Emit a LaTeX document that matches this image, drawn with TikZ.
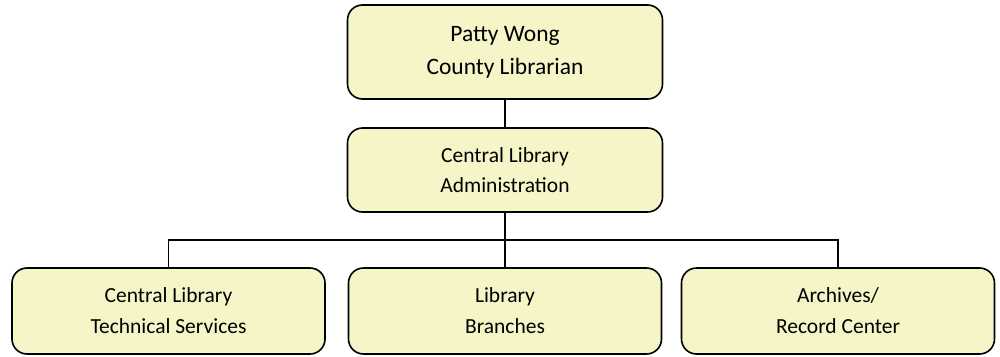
\documentclass[tikz,border=0pt]{standalone}
\usepackage{fontspec}
\setmainfont{Carlito}
\definecolor{boxfill}{RGB}{245,245,200}
\tikzset{
  unit/.style={draw=black, line width=1.6pt, fill=boxfill, rounded corners=15pt,
    align=center, inner sep=0pt, text=black},
  link/.style={draw=black, line width=1.5pt},
}
\begin{document}
\begin{tikzpicture}[x=1pt,y=-1pt]
\useasboundingbox (0,0) rectangle (1000,356);
% head of the county library
\node[unit, minimum width=315pt, minimum height=94pt, font=\fontsize{23.5}{33}\selectfont]
  (head) at (505,52) {Patty Wong\\County Librarian};
% administration
\node[unit, minimum width=315pt, minimum height=84pt, font=\fontsize{21.5}{30}\selectfont]
  (admin) at (505,170) {Central Library\\Administration};
% divisions
\node[unit, minimum width=313pt, minimum height=86pt, font=\fontsize{21.5}{31}\selectfont]
  (tech) at (168.5,311) {Central Library\\Technical Services};
\node[unit, minimum width=313pt, minimum height=86pt, font=\fontsize{21.5}{31}\selectfont]
  (branch) at (505,311) {Library\\Branches};
\node[unit, minimum width=313pt, minimum height=86pt, font=\fontsize{21.5}{31}\selectfont]
  (arch) at (838,311) {Archives/\\Record Center};
% connectors
\coordinate (bus) at (505,240);
\draw[link] (head.south) -- (admin.north);
\draw[link] (admin.south) -- (branch.north);
\draw[link] (tech.north) |- (bus) -| (arch.north);
\end{tikzpicture}
\end{document}
